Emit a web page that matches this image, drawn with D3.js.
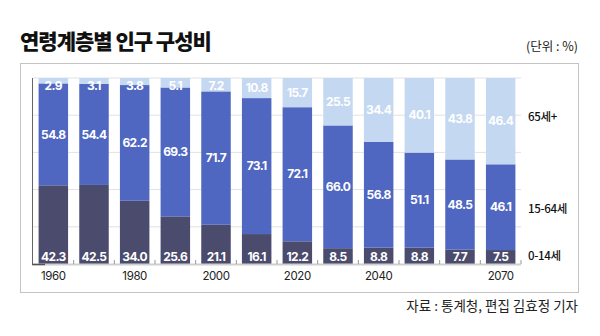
<!DOCTYPE html>
<html><head><meta charset="utf-8">
<script src="https://cdn.jsdelivr.net/npm/d3@7"></script>
<style>
html,body{margin:0;padding:0;background:#fff;}
svg{display:block;font-family:"Noto Sans CJK KR","Noto Sans",sans-serif;}
</style></head>
<body>
<svg id="c" width="600" height="336"></svg>
<script>
const years = [1960,1970,1980,1990,2000,2010,2020,2030,2040,2050,2060,2070];
const tickYears = [1960,1980,2000,2020,2040,2070];
const young = [42.3,42.5,34.0,25.6,21.1,16.1,12.2,8.5,8.8,8.8,7.7,7.5];
const working = [54.8,54.4,62.2,69.3,71.7,73.1,72.1,66.0,56.8,51.1,48.5,46.1];
const old = [2.9,3.1,3.8,5.1,7.2,10.8,15.7,25.5,34.4,40.1,43.8,46.4];
const seriesNames = ["0-14세","15-64세","65세+"];
const colors = ["#4a4b6d","#4f67c1","#c5d8f1"];
const gridTicks = [0,20,40,60,80,100];

const svg = d3.select("#c");
// title
svg.append("text").attr("x",20).attr("y",49).attr("font-size",21).attr("font-weight",900)
  .attr("letter-spacing",-1.0).attr("fill","#111").text("연령계층별 인구 구성비");
svg.append("text").attr("x",578).attr("y",51).attr("text-anchor","end").attr("font-size",12.5)
  .attr("fill","#222").text("(단위 : %)");
// panel
svg.append("rect").attr("x",20.5).attr("y",63.5).attr("width",558).attr("height",229)
  .attr("fill","none").attr("stroke","#c4c4c4").attr("stroke-width",1);
svg.append("text").attr("x",578).attr("y",311).attr("text-anchor","end").attr("font-size",13.5)
  .attr("fill","#222").text("자료 : 통계청, 편집 김효정 기자");

const x = d3.scaleBand().domain(years).range([33,521]).paddingInner(0.275).paddingOuter(0.1375);
const y = d3.scaleLinear().domain([0,100]).range([264,78]);

// grid
svg.append("g").selectAll("line").data(gridTicks.slice(1)).join("line")
  .attr("x1",33).attr("x2",521).attr("y1",d=>y(d)).attr("y2",d=>y(d))
  .attr("stroke","#e2e2e2").attr("stroke-width",1);

const rows = years.map((yr,i)=>({year:yr, young:young[i], working:working[i], old:old[i]}));
const stack = d3.stack().keys(["young","working","old"])(rows);

svg.append("g").selectAll("g").data(stack).join("g").attr("fill",(d,i)=>colors[i])
  .selectAll("rect").data(d=>d).join("rect")
  .attr("x",d=>x(d.data.year)).attr("width",x.bandwidth())
  .attr("y",d=>y(d[1])).attr("height",d=>y(d[0])-y(d[1]));

// bottom axis
const axisG = svg.append("g").attr("transform","translate(0,264)");
axisG.append("line").attr("x1",33).attr("x2",521).attr("y1",0.5).attr("y2",0.5).attr("stroke","#cfcfcf").attr("stroke-width",2);
const bounds = years.map(yr=>x(yr)-x.step()*x.paddingInner()/2).concat([x(years[years.length-1])+x.bandwidth()+x.step()*x.paddingInner()/2]);
axisG.selectAll("line.t").data(bounds.slice(1)).join("line").attr("class","t")
  .attr("x1",d=>d).attr("x2",d=>d).attr("y1",-4).attr("y2",0).attr("stroke","#999").attr("stroke-width",1);
const xAxis = d3.axisBottom(x).tickValues(tickYears).tickSize(0).tickPadding(8);
const xa = svg.append("g").attr("transform","translate(0,264)").call(xAxis);
xa.select(".domain").remove();
xa.selectAll("text").attr("font-size",11.5).attr("fill","#222").attr("letter-spacing",-0.4)
  .attr("font-family","Inter,'Noto Sans CJK KR',sans-serif");
// left axis
svg.append("line").attr("x1",32.5).attr("x2",32.5).attr("y1",y(100)).attr("y2",265).attr("stroke","#666").attr("stroke-width",1);
svg.append("line").attr("x1",32).attr("x2",45).attr("y1",264.5).attr("y2",264.5).attr("stroke","#555").attr("stroke-width",1.5);

// value labels
const lab = svg.append("g").attr("fill","#fff").attr("font-weight",700).attr("font-size",12)
  .attr("font-family","Inter,'Noto Sans CJK KR',sans-serif")
  .attr("text-anchor","middle").attr("letter-spacing",-0.6);
rows.forEach(r=>{
  const cx = x(r.year)+x.bandwidth()/2;
  lab.append("text").attr("x",cx).attr("y",y(0)-7).attr("dy","0.35em").text(r.young.toFixed(1));
  lab.append("text").attr("x",cx).attr("y",(y(r.young)+y(r.young+r.working))/2).attr("dy","0.35em").text(r.working.toFixed(1));
  lab.append("text").attr("x",cx).attr("y",Math.max((y(100)+y(100-r.old))/2, y(100)+8)).attr("dy","0.35em").text(r.old.toFixed(1));
});

// legend on right
svg.append("g").selectAll("text").data(seriesNames).join("text")
  .attr("x",528).attr("y",(d,i)=>[256,209,117][i]).attr("dy","0.35em")
  .attr("font-size",11.5).attr("font-weight",500).attr("fill","#111").attr("letter-spacing",-0.3).text(d=>d);
</script>
</body></html>
